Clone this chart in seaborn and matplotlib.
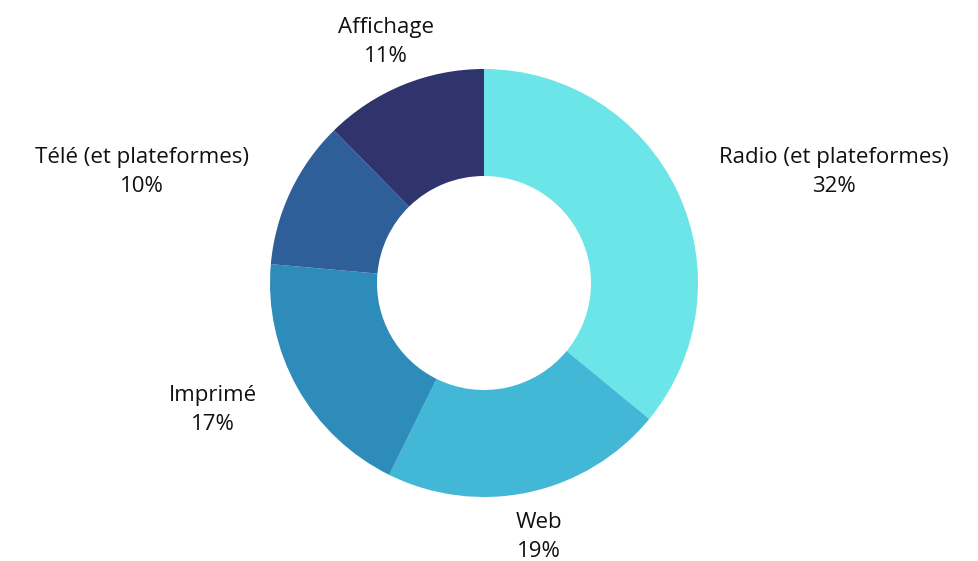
import numpy as np
import matplotlib
matplotlib.use("Agg")
import matplotlib.pyplot as plt
import seaborn as sns

# data
labels = ["Radio (et plateformes)", "Web", "Imprimé", "Télé (et plateformes)", "Affichage"]
values = [32, 19, 17, 10, 11]
colors = ["#6BE5E8", "#42B7D6", "#2E8CBA", "#2E5F99", "#30346C"]

sns.set_theme(style="white")
plt.rcParams["font.family"] = ["Open Sans", "DejaVu Sans"]

fig = plt.figure(figsize=(9.79, 5.61), dpi=100)
ax = fig.add_axes([0, 0, 1, 1])

wedges, _ = ax.pie(values, colors=colors, startangle=90, counterclock=False,
                   radius=1, wedgeprops=dict(width=0.5, linewidth=0))

# scale: 214 px per unit, centre at (484, 283) from top-left
s = 214
ax.set_xlim(-484 / s, (979 - 484) / s)
ax.set_ylim(-(561 - 283) / s, 283 / s)
ax.set_aspect("auto")
ax.axis("off")

r_lab = 260 / s
for w, lab, v in zip(wedges, labels, values):
    ang = np.deg2rad((w.theta1 + w.theta2) / 2)
    x, y = r_lab * np.cos(ang), r_lab * np.sin(ang)
    if np.cos(ang) > 0.5:
        ha = "left"
    elif np.cos(ang) < -0.5:
        ha = "right"
    else:
        ha = "center"
    ax.text(x, y, f"{lab}\n{v}%", ha=ha, va="center", multialignment="center",
            fontsize=16, color="#111111", linespacing=1.5)

fig.savefig("out.png", dpi=100)
